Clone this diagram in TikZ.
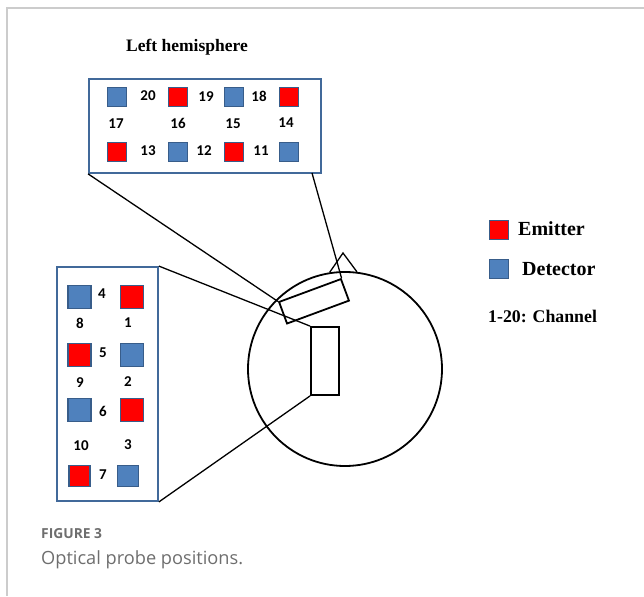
\documentclass[tikz,border=0pt]{standalone}
\usepackage{fontspec}
\setmainfont{Liberation Serif}
\newfontfamily\numfont{Carlito}
\newfontfamily\capfont{Open Sans}
\definecolor{emitred}{HTML}{FF0000}
\definecolor{detblue}{HTML}{4F81BD}
\definecolor{sqedge}{HTML}{385D8A}
\definecolor{boxedge}{HTML}{41699A}
\definecolor{framegray}{HTML}{CCCCCC}
\definecolor{capgray}{HTML}{6E6E6E}
\tikzset{
  optode/.style={draw=sqedge, line width=1.2pt, minimum size=#1, inner sep=0pt},
  emitter/.style={optode=#1, fill=emitred},
  detector/.style={optode=#1, fill=detblue},
  chan/.style={font=\numfont\bfseries\fontsize{15}{17}\selectfont, inner sep=0pt},
  probebox/.style={draw=boxedge, line width=1.8pt, inner sep=0pt},
  link/.style={draw=black, line width=1.3pt},
  legend/.style={font=\bfseries\fontsize{20}{23}\selectfont, anchor=west, inner sep=0pt}
}
\begin{document}
\begin{tikzpicture}[x=1pt, y=-1pt]
\useasboundingbox (0,0) rectangle (644,596);
% page frame
\draw[framegray, line width=1.5pt] (644,8) -- (7,8) -- (7,596);

% head outline
\node[draw, circle, line width=1.8pt, minimum size=194, inner sep=0pt] (head) at (345,369) {};
\coordinate (noseL) at (head.99);
\coordinate (noseR) at (head.83);
\coordinate (nose) at (343,253);
\draw[line width=1.3pt] (noseL) -- (nose) -- (noseR);

% probe patches on the head
\node[draw, fill=white, line width=1.8pt, minimum width=66, minimum height=23, inner sep=0pt, rotate=20.3] (patchL) at (314,301.3) {};
\node[draw, fill=white, line width=1.8pt, minimum width=28, minimum height=68, inner sep=0pt] (patchF) at (325,361) {};

% top panel: left hemisphere
\node[font=\bfseries\fontsize{17.5}{20}\selectfont] (title) at (187,47) {Left hemisphere};
\node[probebox, minimum width=232, minimum height=94] (tbox) at (205,126) {};
\node[detector=19] (d20) at (117,97) {};
\node[emitter=19] (e19) at (178,97) {};
\node[detector=19] (d18) at (234,97) {};
\node[emitter=19] (e18) at (289,97) {};
\node[emitter=19] (e13) at (117,152) {};
\node[detector=19] (d12) at (178,152) {};
\node[emitter=19] (e11) at (234,152) {};
\node[detector=19] (d11) at (289,152) {};
\node[chan] (c20) at (148,96) {20};
\node[chan] (c19) at (206,97) {19};
\node[chan] (c18) at (259,96) {18};
\node[chan] (c17) at (116,124) {17};
\node[chan] (c16) at (178,123) {16};
\node[chan] (c15) at (233,124) {15};
\node[chan] (c14) at (286,123) {14};
\node[chan] (c13) at (148,151) {13};
\node[chan] (c12) at (204,151) {12};
\node[chan] (c11) at (261,151) {11};

% left panel
\node[probebox, minimum width=101, minimum height=234] (lbox) at (107.5,384) {};
\node[detector=23] (l1) at (79.5,297) {};
\node[emitter=23] (l2) at (132,297) {};
\node[emitter=23] (l3) at (79.5,355) {};
\node[detector=23] (l4) at (132,355) {};
\node[detector=23] (l5) at (79.5,410) {};
\node[emitter=23] (l6) at (132,410) {};
\node[emitter=21] (l7) at (79.5,476) {};
\node[detector=21] (l8) at (128,476) {};
\node[chan] (c4) at (102,294) {4};
\node[chan] (c8) at (80,323) {8};
\node[chan] (c1) at (128,323) {1};
\node[chan] (c5) at (103,353) {5};
\node[chan] (c9) at (80,383) {9};
\node[chan] (c2) at (128,382) {2};
\node[chan] (c6) at (103,411) {6};
\node[chan] (c10) at (81,446) {10};
\node[chan] (c3) at (128,445) {3};
\node[chan] (c7) at (103,475) {7};

% connectors from panels to the head
\coordinate (tfoot) at (312,173);
\draw[link] (tbox.south west) -- (patchL.north west);
\draw[link] (tfoot) -- (patchL.north east);
\draw[link] (lbox.north east) -- (patchF.north west);
\draw[link] (lbox.south east) -- (patchF.south west);

% legend
\node[emitter=19] (legE) at (499,230) {};
\node[detector=19] (legD) at (499,269) {};
\node[legend] (tE) at (518,229) {Emitter};
\node[legend] (tD) at (522,269) {Detector};
\node[legend, font=\bfseries\fontsize{17.8}{20}\selectfont] (tC) at (488,316) {1-20: Channel};

% caption
\node[font=\capfont\bfseries\fontsize{13.8}{16}\selectfont, text=capgray, anchor=west, inner sep=0pt] (fig) at (41,534) {FIGURE 3};
\node[font=\capfont\fontsize{18.2}{21}\selectfont, text=capgray, anchor=west, inner sep=0pt] (cap) at (41,560) {Optical probe positions.};
\end{tikzpicture}
\end{document}
